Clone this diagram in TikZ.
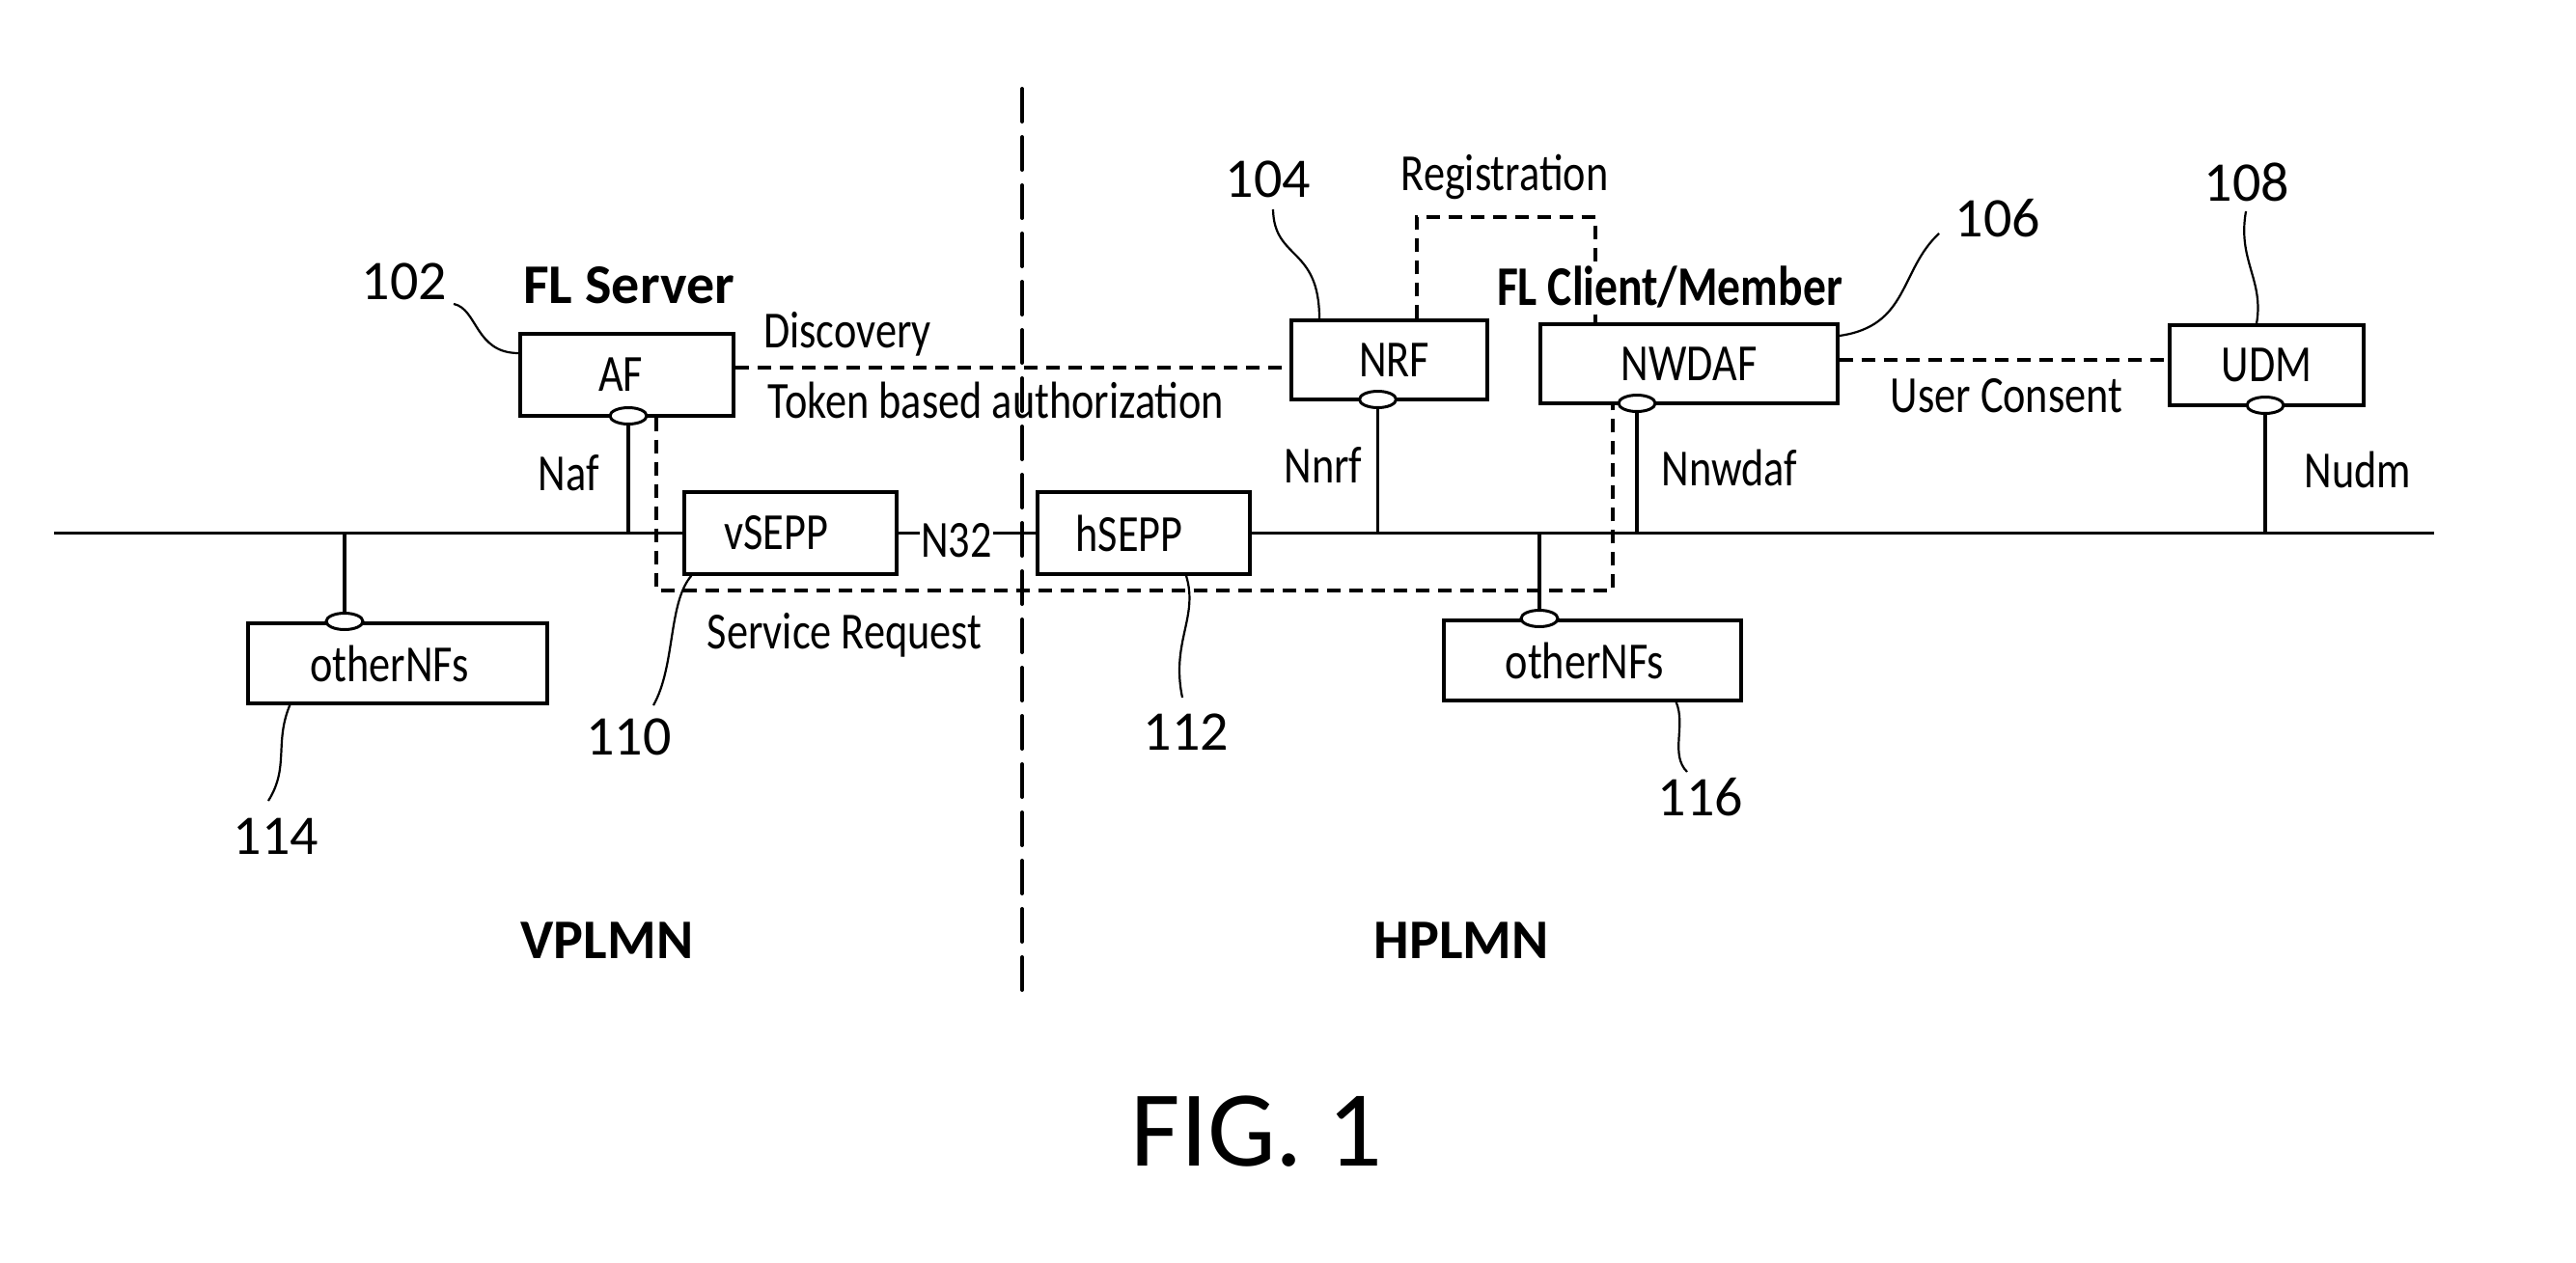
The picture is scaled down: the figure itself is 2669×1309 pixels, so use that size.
\documentclass[tikz,border=0pt]{standalone}
\usepackage{fontspec}
\setmainfont{Carlito}
\newfontfamily\lblfont{Carlito}[FakeStretch=0.82]
\newfontfamily\numfont{Carlito}
\usetikzlibrary{shapes.geometric}
\begin{document}
\begin{tikzpicture}[x=1pt,y=-1pt,
  box/.style={draw, line width=3.3pt, rectangle, inner sep=0pt, font=\lblfont\fontsize{54}{60}\selectfont},
  port/.style={draw, fill=white, ellipse, line width=3pt, minimum width=38pt, minimum height=17pt, inner sep=0pt},
  lbl/.style={font=\lblfont\fontsize{54}{60}\selectfont, inner sep=0pt, anchor=base},
  blbl/.style={font=\numfont\bfseries\fontsize{58}{64}\selectfont, inner sep=0pt, anchor=base},
  num/.style={font=\numfont\fontsize{58}{64}\selectfont, inner sep=0pt, anchor=base},
  bus/.style={line width=3.8pt},
  sdash/.style={line width=3.3pt, dash pattern=on 14pt off 9pt},
  ldash/.style={line width=4pt, dash pattern=on 34pt off 16pt, line cap=round},
  lead/.style={line width=2.2pt},
]
\useasboundingbox (0,0) rectangle (2669,1309);

% boxes
\node[box, minimum width=221pt, minimum height=85pt] (af) at (649.5,388.5) {\kern-13pt AF};
\node[box, minimum width=220pt, minimum height=85pt] (vsepp) at (819,552.5) {\kern-29pt vSEPP};
\node[box, minimum width=220pt, minimum height=85pt] (hsepp) at (1185,552.5) {\kern-30pt hSEPP};
\node[box, minimum width=203pt, minimum height=82pt] (nrf) at (1439.5,373) {NRF\kern-10pt};
\node[box, minimum width=308pt, minimum height=82pt] (nwdaf) at (1750,377) {NWDAF};
\node[box, minimum width=201pt, minimum height=83pt] (udm) at (2348.5,378.5) {UDM};
\node[box, minimum width=310pt, minimum height=83pt] (othl) at (412,687.5) {\kern-17pt otherNFs};
\node[box, minimum width=308pt, minimum height=83pt] (othr) at (1650,684.5) {\kern-16pt otherNFs};

% bus
\coordinate (busL) at (56,552.5);
\coordinate (busR) at (2522,552.5);
\node[lbl, anchor=center, inner sep=1pt] (n32) at (991,560) {N32};
\draw[bus] (busL) -- (busL -| vsepp.west);
\draw[bus] (vsepp.east) -- (vsepp.east -| n32.west);
\draw[bus] (n32.east |- hsepp.west) -- (hsepp.west);
\draw[bus] (hsepp.east) -- (busR);

% ports and drops
\draw[bus] (651,431) -- (651,552.5);
\node[port] (afp) at (651,431) {};
\draw[bus] (1427.5,414) -- (1427.5,552.5);
\node[port] (nrfp) at (1427.5,414) {};
\draw[bus] (1696,418) -- (1696,552.5);
\node[port] (nwdafp) at (1696,418) {};
\draw[bus] (2347,420) -- (2347,552.5);
\node[port] (udmp) at (2347,420) {};
\draw[bus] (357,552.5) -- (357,644);
\node[port] (othlp) at (357,644) {};
\draw[bus] (1595,552.5) -- (1595,641);
\node[port] (othrp) at (1595,641) {};

% divider
\coordinate (divT) at (1059,92);
\coordinate (divB) at (1059,1033);
\draw[ldash] (divT) -- (divB);

% dashed signalling lines
\coordinate (dsc) at (1000,381);
\draw[sdash] (dsc -| af.east) -- (dsc -| nrf.west);
\coordinate (ucy) at (2000,373);
\draw[sdash] (ucy -| nwdaf.east) -- (ucy -| udm.west);
\coordinate (regA) at (1468,225);
\coordinate (regB) at (1653,225);
\draw[sdash] (regA |- nrf.north) -- (regA) -- (regB) -- (regB |- nwdaf.north);
\coordinate (srA) at (680,612);
\coordinate (srB) at (1671,612);
\draw[sdash] (srA |- af.south) -- (srA) -- (srB) -- (srB |- nwdaf.south);

% labels
\node[lbl] (naf) at (589,508) {Naf};
\node[lbl] (nnrf) at (1371,500) {Nnrf};
\node[lbl] (nnwdaf) at (1792,503) {Nnwdaf};
\node[lbl] (nudm) at (2443,505) {Nudm};
\node[lbl] (disc) at (878,360) {Discovery};
\node[lbl] (token) at (1032,433) {Token based authorization};
\node[lbl] (reg) at (1559,197) {Registration};
\node[lbl] (ucl) at (2079,427) {User Consent};
\node[lbl] (sr) at (875,672) {Service Request};
\node[blbl] (fls) at (651.5,314) {FL Server};
\node[blbl, font=\lblfont\bfseries\fontsize{58}{64}\selectfont, fill=white, inner sep=3pt] (flc) at (1730,316) {FL Client/Member};
\node[blbl] (vp) at (629,993) {VPLMN};
\node[blbl] (hp) at (1514,993) {HPLMN};
\node[num, font=\numfont\fontsize{112}{120}\selectfont] (fig) at (1302,1208) {FIG. 1};

% reference numerals and leaders
\node[num] (t102) at (419,310) {102};
\coordinate (c102) at (470,315);
\draw[lead] (c102) .. controls (495,320) and (492,366) .. ([yshift=22.5pt]af.west);
\node[num] (t104) at (1314,204) {104};
\coordinate (c104) at (1319,217);
\draw[lead] (c104) .. controls (1320,270) and (1367,255) .. ([xshift=-72.5pt]nrf.north);
\node[num] (t106) at (2070,245) {106};
\coordinate (c106) at (2009,242);
\draw[lead] (c106) .. controls (1968,280) and (1978,338) .. ([yshift=29pt]nwdaf.east);
\node[num] (t108) at (2328,208) {108};
\coordinate (c108) at (2327,219);
\draw[lead] (c108) .. controls (2318,270) and (2346,290) .. ([xshift=-10.5pt]udm.north);
\node[num] (t110) at (651.5,782) {110};
\coordinate (c110) at (677,731);
\draw[lead] ([xshift=9pt]vsepp.south west) .. controls (692,625) and (700,690) .. (c110);
\node[num] (t112) at (1229,777) {112};
\coordinate (c112) at (1225,723);
\draw[lead] ([xshift=44pt]hsepp.south) .. controls (1242,640) and (1213,665) .. (c112);
\node[num] (t114) at (286,885) {114};
\coordinate (c114) at (278,830);
\draw[lead] ([xshift=45pt]othl.south west) .. controls (284,770) and (300,795) .. (c114);
\node[num] (t116) at (1762,845) {116};
\coordinate (c116) at (1748,800);
\draw[lead] ([xshift=-69pt]othr.south east) .. controls (1747,752) and (1730,782) .. (c116);
\end{tikzpicture}
\end{document}
